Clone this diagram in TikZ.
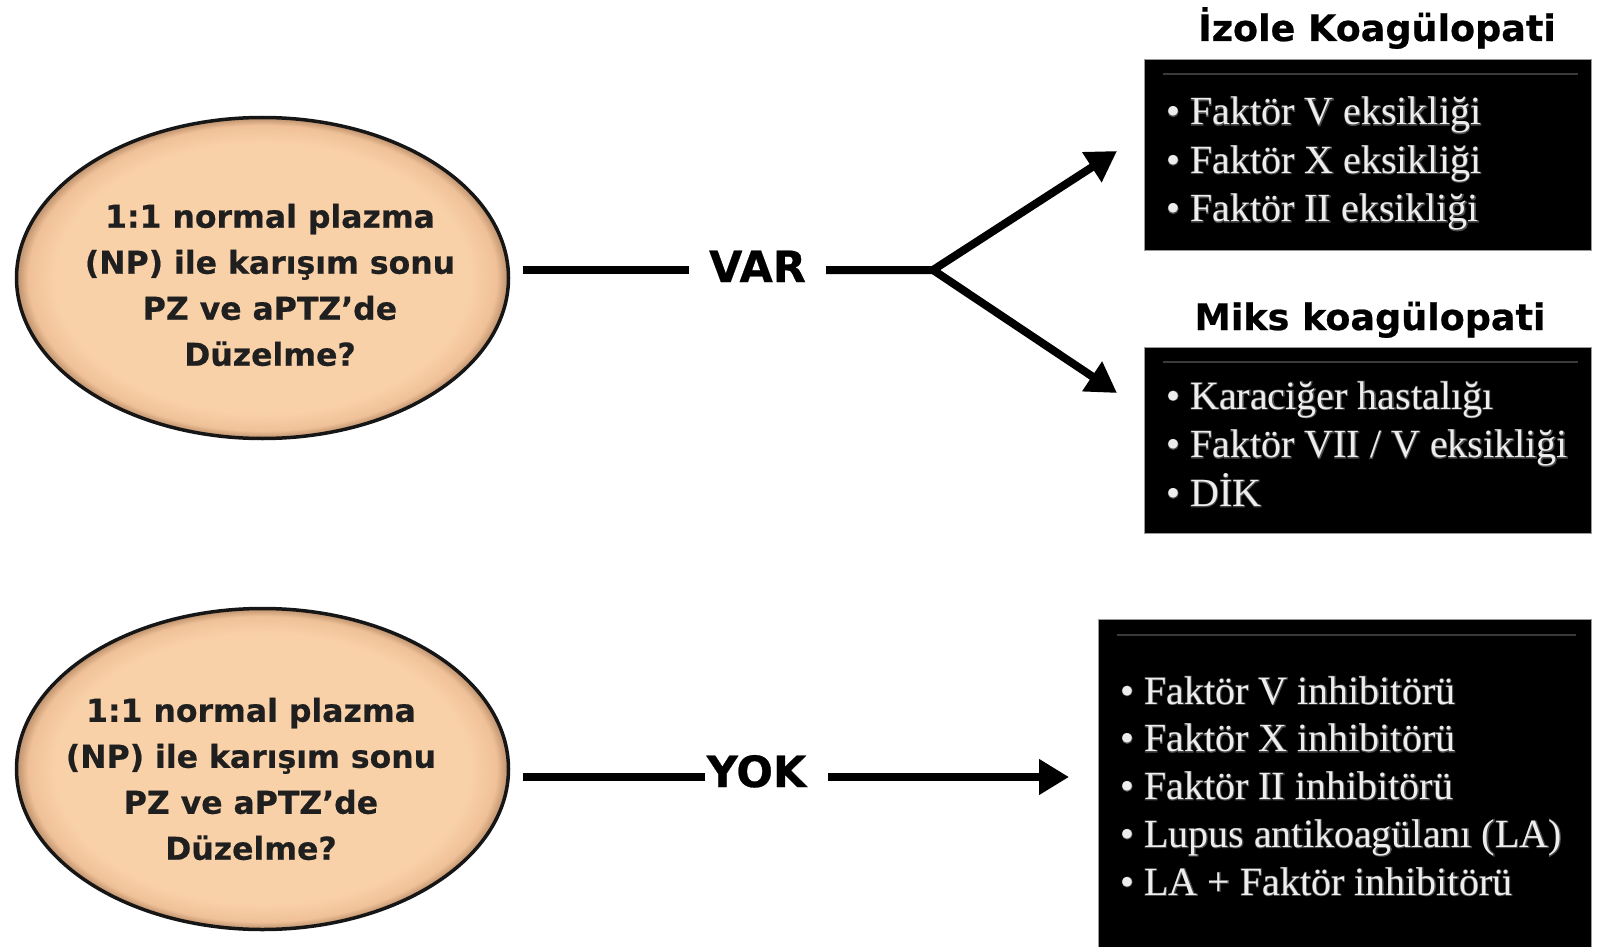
\documentclass[tikz,border=0pt]{standalone}
\usepackage{fontspec}
\setmainfont{Liberation Serif}
\newfontfamily\headsans{DejaVu Sans}[BoldFeatures={FakeBold=0.6}]
\newfontfamily\glowserif{Liberation Serif}[FakeBold=3.5]
\usetikzlibrary{arrows.meta,shapes.geometric}

\definecolor{peach}{HTML}{F9D1A9}
\definecolor{peachmid}{HTML}{F0C198}
\definecolor{peachdark}{HTML}{B98E6A}
\definecolor{ovaledge}{HTML}{161616}
\definecolor{boxtext}{HTML}{EDEDED}
\definecolor{boxglow}{HTML}{4A4A4A}
\definecolor{boxrule}{HTML}{3A3A3A}
\definecolor{boxframe}{HTML}{9A9A9A}

% peach fill that darkens slightly towards the rim of the oval
\pgfdeclareradialshading{ovalshade}{\pgfpoint{0bp}{0bp}}{%
  color(0bp)=(peach); color(21bp)=(peach); color(23.8bp)=(peachmid);
  color(25bp)=(peachdark); color(50bp)=(peachdark)}

% list entry: light text over a soft grey halo
\newcommand{\glowitem}[1]{%
  \makebox[0pt][l]{\textcolor{boxglow}{\glowserif #1}}#1}

\begin{document}
\begin{tikzpicture}[x=1pt,y=-1pt,
  oval/.style={ellipse, draw=ovaledge, line width=3.5pt, shade, shading=ovalshade,
    minimum width=492pt, minimum height=321pt, inner sep=0pt},
  qtext/.style={align=center, inner sep=0pt, text=black!88,
    font=\headsans\bfseries\fontsize{31.5}{46}\selectfont},
  answer/.style={inner ysep=0pt, anchor=base, text=black,
    font=\headsans\bfseries\fontsize{43}{48}\selectfont},
  heading/.style={inner sep=0pt, anchor=base, text=black,
    font=\headsans\bfseries\fontsize{36.5}{42}\selectfont},
  listbox/.style={fill=black, draw=boxframe, line width=1pt, anchor=north west, inner sep=0pt},
  boxline/.style={draw=boxrule, line width=2pt},
  item/.style={anchor=base west, inner sep=0pt, text=boxtext,
    font=\fontsize{40}{48}\selectfont},
  conn/.style={line width=8pt, line join=miter},
  tip/.style={-{Triangle[length=30pt,width=34pt]}}
]
\useasboundingbox (0,0) rectangle (1599,947);

% ---------- upper question: correction present ----------
\node[oval] (oval1) at (262.5,278) {};
\node[qtext] (q1) at (270,285) {1:1 normal plazma\\(NP) ile karışım sonu\\PZ ve aPTZ’de\\Düzelme?};

\node[answer, inner xsep=20pt] (var) at (757.5,282) {VAR};
\coordinate (fork) at (933,270);
\coordinate (tipA) at (1117,151);
\coordinate (tipB) at (1117,393);

\draw[conn, shorten <=13pt] (oval1.east |- fork) -- (var.west |- fork);
\draw[conn, tip] (var.east |- fork) -- (fork) -- (tipA);
\draw[conn, tip] (fork) -- (tipB);

% isolated coagulopathy
\node[heading] (h1) at (1377,41) {İzole Koagülopati};
\node[listbox, minimum width=447pt, minimum height=191pt] (b1) at (1144,59) {};
\draw[boxline] ([xshift=19pt,yshift=-15pt]b1.north west) -- ([xshift=-14pt,yshift=-15pt]b1.north east);
\foreach \t [count=\i] in {Faktör V eksikliği, Faktör X eksikliği, Faktör II eksikliği}
  \node[item] (ia\i) at (1166,{125+48.5*(\i-1)}) {\glowitem{•\ \t}};

% mixed coagulopathy
\node[heading] (h2) at (1370,330) {Miks koagülopati};
\node[listbox, minimum width=447pt, minimum height=186pt] (b2) at (1144,347) {};
\draw[boxline] ([xshift=19pt,yshift=-15pt]b2.north west) -- ([xshift=-14pt,yshift=-15pt]b2.north east);
\foreach \t [count=\i] in {Karaciğer hastalığı, Faktör VII / V eksikliği, DİK}
  \node[item] (ib\i) at (1166,{409+48.8*(\i-1)}) {\glowitem{•\ \t}};

% ---------- lower question: no correction ----------
\node[oval] (oval2) at (262.5,769) {};
\node[qtext] (q2) at (251,779) {1:1 normal plazma\\(NP) ile karışım sonu\\PZ ve aPTZ’de\\Düzelme?};

\node[answer, inner xsep=2pt] (yok) at (756.5,787) {YOK};
\coordinate (tipC) at (1069,777);

\draw[conn, shorten <=13pt] (oval2.east |- tipC) -- (yok.west |- tipC);
\draw[conn, tip, shorten <=20pt] (yok.east |- tipC) -- (tipC);

% inhibitors
\node[listbox, minimum width=493pt, minimum height=330pt] (b3) at (1098,619) {};
\draw[boxline] ([xshift=19pt,yshift=-16pt]b3.north west) -- ([xshift=-16pt,yshift=-16pt]b3.north east);
\foreach \t [count=\i] in {Faktör V inhibitörü, Faktör X inhibitörü, Faktör II inhibitörü,
    Lupus antikoagülanı (LA), LA + Faktör inhibitörü}
  \node[item] (ic\i) at (1120,{704+47.8*(\i-1)}) {\glowitem{•\ \t}};
\end{tikzpicture}
\end{document}
